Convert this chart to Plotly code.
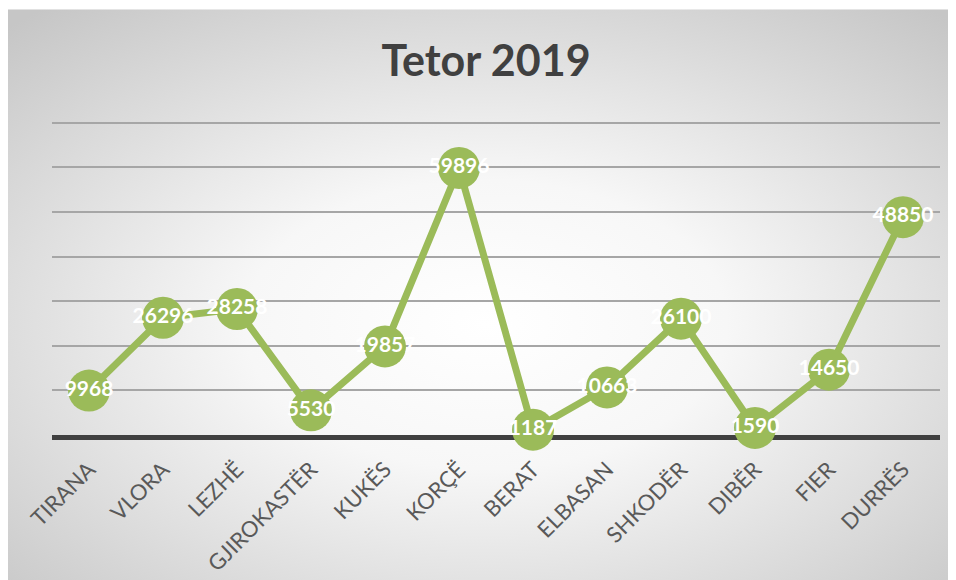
import base64
import plotly.graph_objects as go

categories = ["TIRANA", "VLORA", "LEZHË", "GJIROKASTËR", "KUKËS", "KORÇË",
              "BERAT", "ELBASAN", "SHKODËR", "DIBËR", "FIER", "DURRËS"]
values = [9968, 26296, 28258, 5530, 19857, 59896, 1187, 10663, 26100, 1590, 14650, 48850]
title_text = "Tetor 2019"

W, H = 956, 580
L, R, T, B = 44, 24, 106, 149
pw, ph = W - L - R, H - T - B
FONT = "Lato, Open Sans, sans-serif"
ymax = 70000 * ph / 316.0

svg = ('<svg xmlns="http://www.w3.org/2000/svg" width="956" height="580" viewBox="0 0 956 580" preserveAspectRatio="none">'
       '<defs><radialGradient id="g" cx="50%" cy="55%" r="72%" fx="50%" fy="55%">'
       '<stop offset="0" stop-color="#ffffff"/><stop offset="0.35" stop-color="#f7f7f7"/>'
       '<stop offset="1" stop-color="#c6c6c6"/></radialGradient></defs>'
       '<rect x="0" y="0" width="956" height="580" fill="url(#g)"/></svg>')
src = "data:image/svg+xml;base64," + base64.b64encode(svg.encode()).decode()

fig = go.Figure()
fig.add_trace(go.Scatter(
    x=categories, y=values, mode="lines+markers+text",
    line=dict(color="#9BBB59", width=7),
    marker=dict(color="#9BBB59", size=42),
    text=[str(v) for v in values], textposition="middle center",
    textfont=dict(color="white", size=21, family=FONT, weight="bold"),
    cliponaxis=False, hoverinfo="skip",
))

fig.update_layout(
    width=W, height=H,
    margin=dict(l=L, r=R, t=T, b=B),
    paper_bgcolor="white", plot_bgcolor="rgba(0,0,0,0)",
    showlegend=False,
    title=dict(text="<b>" + title_text + "</b>", x=0.5, xanchor="center",
               y=1 - 53 / H, yanchor="middle", yref="container",
               font=dict(size=43, color="#404040", family=FONT)),
    images=[dict(source=src, xref="paper", yref="paper",
                 x=-L / pw, y=(H - B) / ph,
                 sizex=W / pw, sizey=H / ph,
                 xanchor="left", yanchor="top", sizing="stretch", layer="below")],
)
fig.update_xaxes(range=[-0.5, len(categories) - 0.5], showgrid=False, showline=True,
                 linecolor="#404040", linewidth=5, ticks="", tickangle=-45,
                 ticklabelstandoff=8, layer="below traces",
                 tickfont=dict(size=22, color="#595959", family=FONT))
fig.update_yaxes(range=[0, ymax], tickvals=[10000, 20000, 30000, 40000, 50000, 60000, 70000],
                 showgrid=True, gridcolor="#A6A6A6",
                 gridwidth=1.5, showticklabels=False, zeroline=False, showline=False,
                 layer="below traces")

fig.write_html("out.html")
